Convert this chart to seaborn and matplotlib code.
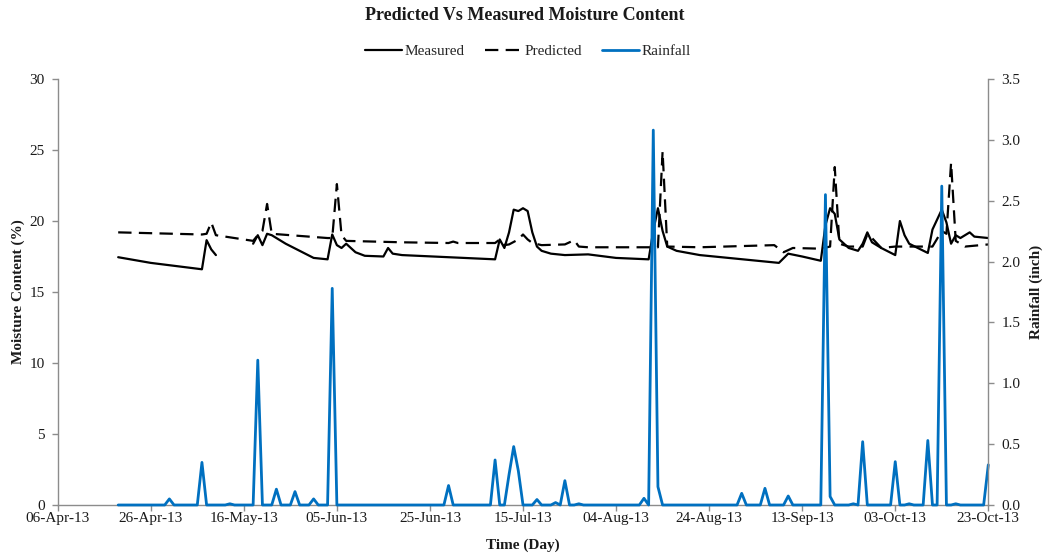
import numpy as np
import pandas as pd
import matplotlib
matplotlib.use("Agg")
import matplotlib.pyplot as plt
import matplotlib.dates as mdates
from matplotlib.lines import Line2D
import seaborn as sns

# ---- data -------------------------------------------------------------
measured_dates = [
    "2013-04-19", "2013-04-26", "2013-05-07", "2013-05-08", "2013-05-09", "2013-05-10",
    None,
    "2013-05-18", "2013-05-19", "2013-05-20", "2013-05-21", "2013-05-22", "2013-05-23",
    "2013-05-25", "2013-05-28", "2013-05-31", "2013-06-03", "2013-06-04", "2013-06-05",
    "2013-06-06", "2013-06-07", "2013-06-09", "2013-06-11", "2013-06-15", "2013-06-16",
    "2013-06-17", "2013-06-19", "2013-06-29", "2013-07-09", "2013-07-10", "2013-07-11",
    "2013-07-12", "2013-07-13", "2013-07-14", "2013-07-15", "2013-07-16", "2013-07-17",
    "2013-07-18", "2013-07-19", "2013-07-21", "2013-07-24", "2013-07-29", "2013-08-04",
    "2013-08-11", "2013-08-12", "2013-08-13", "2013-08-14", "2013-08-15", "2013-08-17",
    "2013-08-22", "2013-09-08", "2013-09-10", "2013-09-13", "2013-09-17", "2013-09-18",
    "2013-09-19", "2013-09-20", "2013-09-21", "2013-09-23", "2013-09-25", "2013-09-26",
    "2013-09-27", "2013-09-28", "2013-09-30", "2013-10-03", "2013-10-04", "2013-10-05",
    "2013-10-06", "2013-10-10", "2013-10-11", "2013-10-13", "2013-10-14", "2013-10-15",
    "2013-10-16", "2013-10-17", "2013-10-19", "2013-10-20", "2013-10-23",
]
measured_values = [
    17.45, 17.05, 16.6, 18.65, 18.0, 17.6,
    None,
    18.4, 19.0, 18.3, 19.1, 19.0, 18.8,
    18.4, 17.9, 17.4, 17.3, 19.05, 18.3,
    18.1, 18.4, 17.8, 17.55, 17.5, 18.1,
    17.7, 17.6, 17.45, 17.3, 18.7, 18.1,
    19.2, 20.8, 20.7, 20.9, 20.7, 19.2,
    18.2, 17.9, 17.7, 17.6, 17.65, 17.4,
    17.3, 19.3, 20.9, 19.3, 18.2, 17.9,
    17.6, 17.05, 17.7, 17.5, 17.2, 19.7,
    20.9, 20.5, 18.7, 18.1, 17.9, 18.4,
    19.2, 18.5, 18.1, 17.6, 20.0, 19.0,
    18.4, 17.75, 19.4, 20.8, 19.9, 18.4,
    19.0, 18.8, 19.2, 18.9, 18.8,
]

predicted_dates = [
    "2013-04-19", "2013-05-07", "2013-05-08", "2013-05-09", "2013-05-10", "2013-05-18",
    "2013-05-19", "2013-05-20", "2013-05-21", "2013-05-22", "2013-05-24", "2013-06-03",
    "2013-06-04", "2013-06-05", "2013-06-06", "2013-06-07", "2013-06-19", "2013-06-29",
    "2013-06-30", "2013-07-01", "2013-07-09", "2013-07-10", "2013-07-11", "2013-07-12",
    "2013-07-14", "2013-07-15", "2013-07-16", "2013-07-17", "2013-07-19", "2013-07-24",
    "2013-07-26", "2013-07-27", "2013-07-29", "2013-08-13", "2013-08-14", "2013-08-15",
    "2013-08-22", "2013-09-07", "2013-09-09", "2013-09-11", "2013-09-17", "2013-09-19",
    "2013-09-20", "2013-09-21", "2013-09-23", "2013-09-26", "2013-09-27", "2013-09-28",
    "2013-09-30", "2013-10-03", "2013-10-11", "2013-10-13", "2013-10-14", "2013-10-15",
    "2013-10-16", "2013-10-18", "2013-10-23",
]
predicted_values = [
    19.2, 19.05, 19.1, 19.9, 19.0, 18.6,
    19.0, 19.3, 21.2, 19.1, 19.05, 18.8,
    18.8, 22.6, 19.0, 18.6, 18.5, 18.45,
    18.55, 18.45, 18.45, 18.7, 18.3, 18.35,
    18.7, 19.05, 18.7, 18.45, 18.3, 18.35,
    18.65, 18.2, 18.15, 18.15, 24.9, 18.2,
    18.15, 18.3, 17.8, 18.1, 18.05, 18.2,
    23.8, 18.4, 18.2, 18.2, 19.05, 18.8,
    18.1, 18.2, 18.2, 19.3, 19.1, 24.1,
    18.6, 18.2, 18.35,
]

rain_dates = [
    "2013-04-19", "2013-04-29", "2013-04-30", "2013-05-01", "2013-05-06", "2013-05-07",
    "2013-05-08", "2013-05-12", "2013-05-13", "2013-05-14", "2013-05-18", "2013-05-19",
    "2013-05-20", "2013-05-22", "2013-05-23", "2013-05-24", "2013-05-26", "2013-05-27",
    "2013-05-28", "2013-05-30", "2013-05-31", "2013-06-01", "2013-06-03", "2013-06-04",
    "2013-06-05", "2013-06-28", "2013-06-29", "2013-06-30", "2013-07-08", "2013-07-09",
    "2013-07-10", "2013-07-11", "2013-07-12", "2013-07-13", "2013-07-14", "2013-07-15",
    "2013-07-17", "2013-07-18", "2013-07-19", "2013-07-21", "2013-07-22", "2013-07-23",
    "2013-07-24", "2013-07-25", "2013-07-26", "2013-07-27", "2013-07-28", "2013-08-09",
    "2013-08-10", "2013-08-11", "2013-08-12", "2013-08-13", "2013-08-14", "2013-08-30",
    "2013-08-31", "2013-09-01", "2013-09-04", "2013-09-05", "2013-09-06", "2013-09-09",
    "2013-09-10", "2013-09-11", "2013-09-17", "2013-09-18", "2013-09-19", "2013-09-20",
    "2013-09-23", "2013-09-24", "2013-09-25", "2013-09-26", "2013-09-27", "2013-10-02",
    "2013-10-03", "2013-10-04", "2013-10-05", "2013-10-06", "2013-10-07", "2013-10-09",
    "2013-10-10", "2013-10-11", "2013-10-12", "2013-10-13", "2013-10-14", "2013-10-15",
    "2013-10-16", "2013-10-17", "2013-10-22", "2013-10-23",
]
rain_values = [
    0.0, 0.0, 0.05, 0.0, 0.0, 0.35,
    0.0, 0.0, 0.01, 0.0, 0.0, 1.19,
    0.0, 0.0, 0.13, 0.0, 0.0, 0.11,
    0.0, 0.0, 0.05, 0.0, 0.0, 1.78,
    0.0, 0.0, 0.16, 0.0, 0.0, 0.37,
    0.0, 0.0, 0.25, 0.48, 0.28, 0.0,
    0.0, 0.045, 0.0, 0.0, 0.02, 0.0,
    0.2, 0.0, 0.0, 0.01, 0.0, 0.0,
    0.055, 0.0, 3.08, 0.15, 0.0, 0.0,
    0.096, 0.0, 0.0, 0.137, 0.0, 0.0,
    0.074, 0.0, 0.0, 2.55, 0.07, 0.0,
    0.0, 0.01, 0.0, 0.52, 0.0, 0.0,
    0.356, 0.0, 0.0, 0.01, 0.0, 0.0,
    0.53, 0.0, 0.0, 2.62, 0.0, 0.0,
    0.01, 0.0, 0.0, 0.33,
]

x_start, x_end = "2013-04-06", "2013-10-23"

# ---- frames -------------------------------------------------------------
meas = pd.DataFrame({"date": pd.to_datetime(measured_dates), "value": measured_values})
meas["segment"] = meas["value"].isna().cumsum()
meas = meas.dropna()
pred = pd.DataFrame({"date": pd.to_datetime(predicted_dates), "value": predicted_values})
rain = pd.DataFrame({"date": pd.to_datetime(rain_dates), "value": rain_values})

# ---- style --------------------------------------------------------------
sns.set_style("white")
plt.rcParams["font.family"] = ["Liberation Serif", "DejaVu Serif"]
plt.rcParams["font.size"] = 11

grey = "#8c8c8c"
blue = "#0070C0"
text_c = "#1a1a1a"

fig = plt.figure(figsize=(10.47, 5.59), dpi=100)
ax = fig.add_axes([57.7 / 1047, 1 - 505 / 559, (988.3 - 57.7) / 1047, (505 - 79) / 559])
ax2 = ax.twinx()

sns.lineplot(data=meas, x="date", y="value", units="segment", estimator=None,
             ax=ax, color="black", linewidth=1.6, sort=False,
             solid_joinstyle="round")
sns.lineplot(data=pred, x="date", y="value", estimator=None, ax=ax,
             color="black", linewidth=1.6, linestyle=(0, (6, 3.3)), sort=False)
sns.lineplot(data=rain, x="date", y="value", estimator=None, ax=ax2,
             color=blue, linewidth=2.0, sort=False, clip_on=False,
             solid_joinstyle="round")

# ---- axes -------------------------------------------------------------
ax.set_xlim(pd.Timestamp(x_start), pd.Timestamp(x_end))
ax.set_ylim(0, 30)
ax2.set_ylim(0, 3.5)
ax.set_xticks(pd.date_range(x_start, x_end, freq="20D"))
ax.xaxis.set_major_formatter(mdates.DateFormatter("%d-%b-%y"))
ax.set_yticks(np.arange(0, 31, 5))
ax2.set_yticks(np.arange(0, 3.51, 0.5))
ax2.yaxis.set_major_formatter(matplotlib.ticker.FormatStrFormatter("%.1f"))

for a in (ax, ax2):
    a.spines["top"].set_visible(False)
    for s in ("left", "right", "bottom"):
        a.spines[s].set_color(grey)
        a.spines[s].set_linewidth(1.0)
ax.spines["right"].set_visible(False)
ax2.spines["left"].set_visible(False)
ax2.spines["bottom"].set_visible(False)

ax.tick_params(axis="x", direction="out", length=4, width=1, color=grey,
               labelsize=11, labelcolor=text_c, pad=1, bottom=True)
ax.tick_params(axis="y", direction="out", length=4, width=1, color=grey,
               labelsize=11, labelcolor=text_c, pad=5.5, left=True)
ax2.tick_params(axis="y", direction="out", length=4, width=1, color=grey,
                labelsize=11, labelcolor=text_c, pad=5.5, right=True)
ax.grid(False)
ax2.grid(False)

ax.set_xlabel("Time (Day)", fontsize=11, fontweight="bold", color=text_c)
ax.set_ylabel("Moisture Content (%)", fontsize=11, fontweight="bold", color=text_c)
ax2.set_ylabel("Rainfall (inch)", fontsize=11, fontweight="bold", color=text_c)
ax.xaxis.set_label_coords(0.5, (505 - 539) / 426)
ax.yaxis.set_label_coords((25 - 57.7) / 930.6, 0.5)
ax2.yaxis.set_label_coords((1030 - 57.7) / 930.6, 0.5)

fig.text(524.5 / 1047, 1 - 15 / 559, "Predicted Vs Measured Moisture Content",
         ha="center", va="center", fontsize=13, fontweight="bold", color=text_c)

handles = [
    Line2D([], [], color="black", linewidth=1.6),
    Line2D([], [], color="black", linewidth=1.6, linestyle=(0, (6, 3.3))),
    Line2D([], [], color=blue, linewidth=2.0),
]
fig.legend(handles, ["Measured", "Predicted", "Rainfall"], loc="center",
           bbox_to_anchor=(528 / 1047, 1 - 51 / 559), ncol=3, frameon=False,
           fontsize=11, handlelength=2.4, handletextpad=0.2, columnspacing=1.3)

fig.savefig("out.png", dpi=100)
